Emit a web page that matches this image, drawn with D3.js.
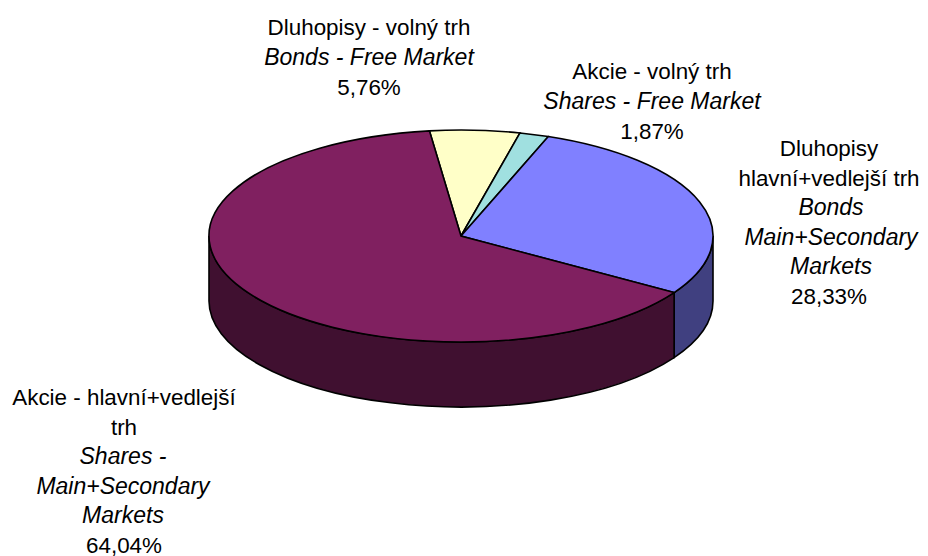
<!DOCTYPE html>
<html>
<head>
<meta charset="utf-8">
<script src="https://cdnjs.cloudflare.com/ajax/libs/d3/7.8.5/d3.min.js"></script>
<style>
body {margin:0;background:#fff;}
text {font-family:"Liberation Sans",Arial,sans-serif;font-size:22.4px;fill:#000;}
</style>
</head>
<body>
<div id="chart"></div>
<script>
var w=928, h=556;

//Chart data, clockwise from the yellow slice
var categories=["Dluhopisy - volný trh","Akcie - volný trh","Dluhopisy hlavní+vedlejší trh","Akcie - hlavní+vedlejší trh"];
var values=[5.76,1.87,28.33,64.04];
var topColors=["#ffffc8","#a0e0e0","#8080ff","#802060"];
var sideColors=["#808064","#507070","#404080","#401030"];

//Label lines, italic ones flagged separately
var labelLines=[
  ["Dluhopisy - volný trh","Bonds - Free Market","5,76%"],
  ["Akcie - volný trh","Shares - Free Market","1,87%"],
  ["Dluhopisy","hlavní+vedlejší trh","Bonds","Main+Secondary","Markets","28,33%"],
  ["Akcie - hlavní+vedlejší","trh","Shares -","Main+Secondary","Markets","64,04%"]
];
var labelItalic=[[1],[1],[2,3,4],[2,3,4]];
var labelX=[369,652,829,124];
var labelY=[35,79,156,405];
var lineStep=[30,30,29.5,29.5];
var italicShift=[0,0,2,-1];

var cx=461, cy=236, rx=252, ry=106, depth=65;
var startAngle=-7.2*Math.PI/180;

var svg=d3.select("#chart").append("svg").attr("width",w).attr("height",h);

var pie=d3.pie().sort(null).value(function(d) {return d;})
          .startAngle(startAngle).endAngle(startAngle+2*Math.PI);
var slices=pie(values);

var arc=d3.arc().innerRadius(0).outerRadius(rx);
var yRatio=ry/rx;

//Point on the rim of the ellipse
var rimX=function(a) {return cx+rx*Math.sin(a);};
var rimY=function(a) {return cy-ry*Math.cos(a);};

//Side walls, only the front half of the rim is visible
var wallPath=function(d) {
    var a0=Math.max(d.startAngle,Math.PI/2);
    var a1=Math.min(d.endAngle,3*Math.PI/2);
    if (a1<=a0) return null;
    return "M"+rimX(a0)+","+rimY(a0)
        +"A"+rx+","+ry+" 0 0 1 "+rimX(a1)+","+rimY(a1)
        +"L"+rimX(a1)+","+(rimY(a1)+depth)
        +"A"+rx+","+ry+" 0 0 0 "+rimX(a0)+","+(rimY(a0)+depth)+"Z";
};

svg.append("g")
   .selectAll("path")
   .data(slices)
   .enter()
   .append("path")
   .attr("d",wallPath)
   .style("fill",function(d,i) {return sideColors[i];})
   .style("stroke","#000")
   .style("stroke-width",1.6);

//Top face, d3.arc squashed into an ellipse
svg.append("g")
   .attr("transform","translate("+cx+","+cy+") scale(1,"+yRatio+")")
   .selectAll("path")
   .data(slices)
   .enter()
   .append("path")
   .attr("d",arc)
   .style("fill",function(d,i) {return topColors[i];})
   .style("stroke","#000")
   .style("stroke-width",1.6)
   .attr("vector-effect","non-scaling-stroke");

//Labels
labelLines.forEach(function(lines,i) {
    var isItalic=function(j) {return labelItalic[i].indexOf(j)>=0;};
    svg.append("g")
       .selectAll("text")
       .data(lines)
       .enter()
       .append("text")
       .attr("x",function(d,j) {return labelX[i]+(isItalic(j)?italicShift[i]:0);})
       .attr("y",function(d,j) {return labelY[i]+j*lineStep[i];})
       .attr("text-anchor","middle")
       .style("font-style",function(d,j) {return isItalic(j)?"italic":"normal";})
       .style("font-size",function(d,j) {return isItalic(j)?"23px":null;})
       .text(function(d) {return d;});
});
</script>
</body>
</html>
